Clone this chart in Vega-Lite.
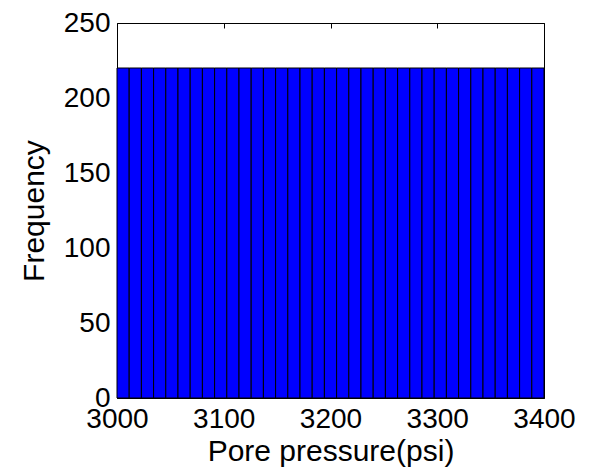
{
  "$schema": "https://vega.github.io/schema/vega-lite/v6.json",
  "autosize": "none",
  "padding": {"left": 117, "top": 23, "right": 54, "bottom": 71},
  "width": 427,
  "height": 375,
  "background": "white",
  "config": {
    "view": {"stroke": "#000000", "strokeWidth": 1},
    "font": "Liberation Sans",
    "axis": {
      "grid": false,
      "domain": false,
      "labelFont": "Liberation Sans",
      "titleFont": "Liberation Sans",
      "labelFontSize": 28,
      "titleFontSize": 30,
      "labelColor": "#000000",
      "titleColor": "#000000",
      "titleFontWeight": "normal",
      "tickColor": "#000000",
      "tickSize": -5,
      "labelFlush": false,
      "labelOverlap": false,
      "format": "d"
    }
  },
  "data": {
    "values": [
      {"lo": 3000, "hi": 3011.43, "count": 220},
      {"lo": 3011.43, "hi": 3022.86, "count": 220},
      {"lo": 3022.86, "hi": 3034.29, "count": 220},
      {"lo": 3034.29, "hi": 3045.71, "count": 220},
      {"lo": 3045.71, "hi": 3057.14, "count": 220},
      {"lo": 3057.14, "hi": 3068.57, "count": 220},
      {"lo": 3068.57, "hi": 3080, "count": 220},
      {"lo": 3080, "hi": 3091.43, "count": 220},
      {"lo": 3091.43, "hi": 3102.86, "count": 220},
      {"lo": 3102.86, "hi": 3114.29, "count": 220},
      {"lo": 3114.29, "hi": 3125.71, "count": 220},
      {"lo": 3125.71, "hi": 3137.14, "count": 220},
      {"lo": 3137.14, "hi": 3148.57, "count": 220},
      {"lo": 3148.57, "hi": 3160, "count": 220},
      {"lo": 3160, "hi": 3171.43, "count": 220},
      {"lo": 3171.43, "hi": 3182.86, "count": 220},
      {"lo": 3182.86, "hi": 3194.29, "count": 220},
      {"lo": 3194.29, "hi": 3205.71, "count": 220},
      {"lo": 3205.71, "hi": 3217.14, "count": 220},
      {"lo": 3217.14, "hi": 3228.57, "count": 220},
      {"lo": 3228.57, "hi": 3240, "count": 220},
      {"lo": 3240, "hi": 3251.43, "count": 220},
      {"lo": 3251.43, "hi": 3262.86, "count": 220},
      {"lo": 3262.86, "hi": 3274.29, "count": 220},
      {"lo": 3274.29, "hi": 3285.71, "count": 220},
      {"lo": 3285.71, "hi": 3297.14, "count": 220},
      {"lo": 3297.14, "hi": 3308.57, "count": 220},
      {"lo": 3308.57, "hi": 3320, "count": 220},
      {"lo": 3320, "hi": 3331.43, "count": 220},
      {"lo": 3331.43, "hi": 3342.86, "count": 220},
      {"lo": 3342.86, "hi": 3354.29, "count": 220},
      {"lo": 3354.29, "hi": 3365.71, "count": 220},
      {"lo": 3365.71, "hi": 3377.14, "count": 220},
      {"lo": 3377.14, "hi": 3388.57, "count": 220},
      {"lo": 3388.57, "hi": 3400, "count": 220}
    ]
  },
  "resolve": {"axis": {"x": "independent", "y": "independent"}},
  "layer": [
    {
      "mark": {"type": "bar", "fill": "#0000FF", "stroke": "#000000", "strokeWidth": 1},
      "encoding": {
        "x": {
          "field": "lo", "type": "quantitative",
          "scale": {"domain": [3000, 3400], "nice": false, "zero": false},
          "axis": {"orient": "bottom", "values": [3000, 3100, 3200, 3300, 3400], "title": "Pore pressure(psi)", "labelPadding": 12, "titlePadding": 3}
        },
        "x2": {"field": "hi"},
        "y": {
          "field": "count", "type": "quantitative",
          "scale": {"domain": [0, 250], "nice": false},
          "axis": {"orient": "left", "values": [0, 50, 100, 150, 200, 250], "title": "Frequency", "labelPadding": 12, "titlePadding": 14}
        },
        "y2": {"datum": 0}
      }
    },
    {
      "mark": {"type": "point", "opacity": 0},
      "encoding": {
        "x": {
          "field": "lo", "type": "quantitative",
          "axis": {"orient": "top", "values": [3000, 3100, 3200, 3300, 3400], "labels": false, "title": null}
        },
        "y": {
          "field": "count", "type": "quantitative",
          "axis": {"orient": "right", "values": [0, 50, 100, 150, 200, 250], "labels": false, "title": null}
        }
      }
    }
  ]
}
